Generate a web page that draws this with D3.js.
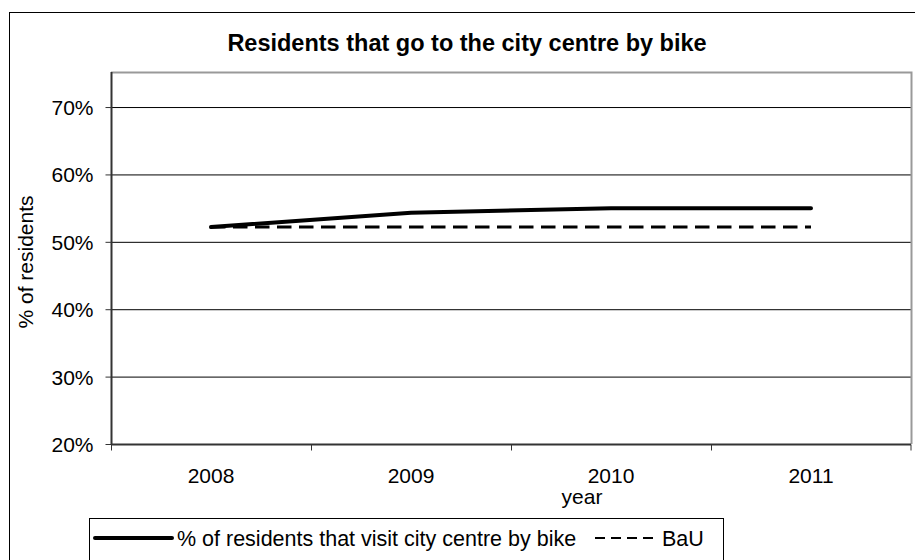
<!DOCTYPE html>
<html>
<head>
<meta charset="utf-8">
<script src="https://cdn.jsdelivr.net/npm/d3@7"></script>
<style>
   body { margin: 0; background: #fff; }
   svg { display: block; font-family: "Liberation Sans", Arial, sans-serif; }
</style>
</head>
<body>
<div id="chart"></div>
<script>
// Values
const years = ["2008", "2009", "2010", "2011"];
const residentsByBike = [52.2, 54.3, 55, 55];
const bau = [52.2, 52.2, 52.2, 52.2];
const yTicks = [20, 30, 40, 50, 60, 70];
const yMin = 20, yMax = 75.2;

const width = 915, height = 560;
const plot = {left: 111, top: 72, right: 911, bottom: 444};

let svg = d3.select("#chart")
   .append("svg")
   .attr("width", width)
   .attr("height", height);

// Outer chart frame (runs off the right and bottom edge)
svg.append("rect")
   .attr("x", 9.5).attr("y", 12.5)
   .attr("width", width).attr("height", height)
   .attr("fill", "#fff")
   .attr("stroke", "#000")
   .attr("stroke-width", 1);

// Title
svg.append("text")
   .attr("x", 467).attr("y", 51)
   .attr("text-anchor", "middle")
   .style("font-size", "23.5px")
   .style("font-weight", "bold")
   .text("Residents that go to the city centre by bike");

let xBand = d3.scaleBand()
   .domain(years)
   .range([plot.left, plot.right])
   .paddingInner(0).paddingOuter(0);
let x = d3.scalePoint()
   .domain(years)
   .range([plot.left, plot.right])
   .padding(0.5);
let y = d3.scaleLinear()
   .domain([yMin, yMax])
   .range([plot.bottom, plot.top]);

// Gridlines
svg.append("g")
   .attr("transform", "translate(" + plot.left + ",0)")
   .call(d3.axisLeft(y).tickValues(yTicks.slice(1)).tickSize(-(plot.right - plot.left)).tickFormat(""))
   .call(g => g.select(".domain").remove())
   .call(g => g.selectAll("line").attr("stroke", "#000").attr("stroke-width", 1));

// Plot area border: top and right in grey
svg.append("path")
   .attr("d", "M" + plot.left + "," + (plot.top + 0.5) + "H" + (plot.right + 0.5) + "V" + plot.bottom)
   .attr("fill", "none")
   .attr("stroke", "#999")
   .attr("stroke-width", 2);

// Y axis
let yAxis = svg.append("g")
   .attr("transform", "translate(" + (plot.left + 0.5) + ",0)")
   .call(d3.axisLeft(y).tickValues(yTicks).tickSize(6).tickPadding(12).tickFormat(d => d + "%"));
yAxis.select(".domain").attr("stroke", "#333").attr("stroke-width", 2)
   .attr("d", "M0," + plot.top + "V" + plot.bottom);
yAxis.selectAll("line").attr("stroke", "#333");
yAxis.selectAll("text").style("font-size", "21px").attr("fill", "#000").attr("dy", "0.36em");

// X axis: line, boundary ticks, centred labels
let xAxis = svg.append("g")
   .attr("transform", "translate(0," + (plot.bottom + 0.5) + ")");
xAxis.append("line")
   .attr("x1", plot.left).attr("x2", plot.right)
   .attr("stroke", "#333").attr("stroke-width", 2);
xAxis.selectAll(".bound")
   .data(years.concat(["end"]))
   .enter()
   .append("line")
   .attr("class", "bound")
   .attr("x1", d => d == "end" ? plot.right : xBand(d) + 0.5)
   .attr("x2", d => d == "end" ? plot.right : xBand(d) + 0.5)
   .attr("y1", 0).attr("y2", 6)
   .attr("stroke", "#333");
xAxis.selectAll(".lbl")
   .data(years)
   .enter()
   .append("text")
   .attr("class", "lbl")
   .attr("x", d => x(d))
   .attr("y", 38)
   .attr("text-anchor", "middle")
   .style("font-size", "21px")
   .text(d => d);

// Axis titles
svg.append("text")
   .attr("x", 582).attr("y", 504)
   .attr("text-anchor", "middle")
   .style("font-size", "21px")
   .text("year");
svg.append("text")
   .attr("transform", "translate(33,262) rotate(-90)")
   .attr("text-anchor", "middle")
   .style("font-size", "21px")
   .text("% of residents");

// Lines
let line = d3.line()
   .x((d, i) => x(years[i]))
   .y(d => y(d));

svg.append("path")
   .datum(bau)
   .attr("d", line)
   .attr("fill", "none")
   .attr("stroke", "#000")
   .attr("stroke-width", 3)
   .attr("stroke-dasharray", "14.5,7.5");

svg.append("path")
   .datum(residentsByBike)
   .attr("d", line)
   .attr("fill", "none")
   .attr("stroke", "#000")
   .attr("stroke-width", 4)
   .attr("stroke-linecap", "round");

// Legend
let legend = svg.append("g");
legend.append("rect")
   .attr("x", 89.5).attr("y", 518.5)
   .attr("width", 634).attr("height", 60)
   .attr("fill", "#fff")
   .attr("stroke", "#000");
legend.append("line")
   .attr("x1", 95).attr("x2", 172)
   .attr("y1", 538).attr("y2", 538)
   .attr("stroke", "#000").attr("stroke-width", 4)
   .attr("stroke-linecap", "round");
legend.append("text")
   .attr("x", 177).attr("y", 545.5)
   .style("font-size", "21.5px")
   .text("% of residents that visit city centre by bike");
legend.append("line")
   .attr("x1", 595).attr("x2", 659)
   .attr("y1", 538).attr("y2", 538)
   .attr("stroke", "#000").attr("stroke-width", 2)
   .attr("stroke-dasharray", "10,6");
legend.append("text")
   .attr("x", 662).attr("y", 545.5)
   .style("font-size", "21.5px")
   .text("BaU");
</script>
</body>
</html>
